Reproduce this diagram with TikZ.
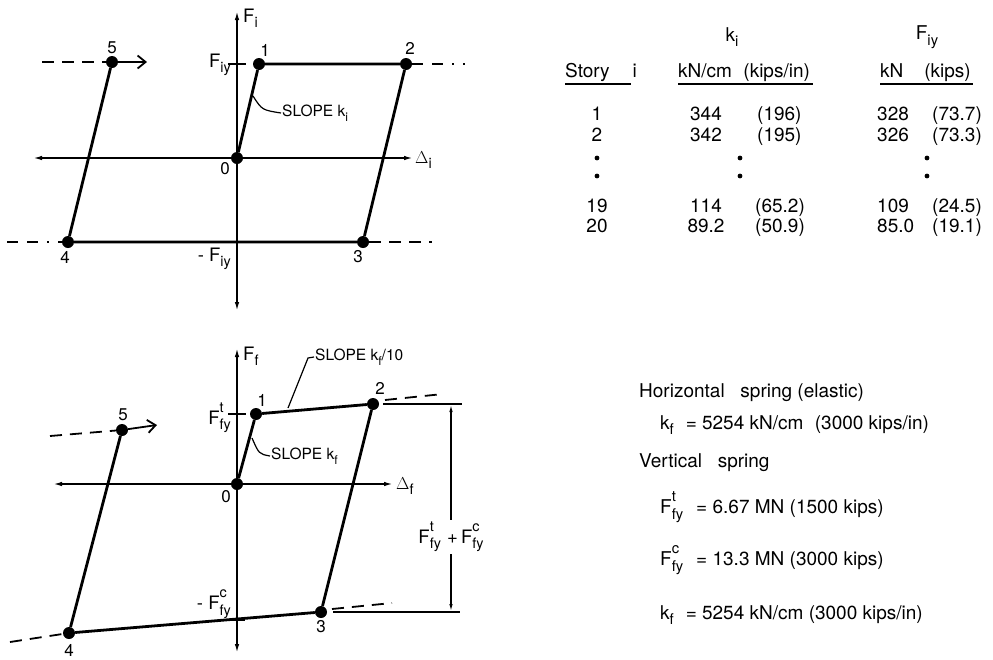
\documentclass[tikz,border=0pt]{standalone}
\usepackage{fontspec}
\setmainfont{TeX Gyre Heros}
\usepackage{graphicx}
\usetikzlibrary{arrows.meta}
\newcommand\dn[1]{\raisebox{-0.55ex}{\scalebox{0.78}{#1}}}
\newcommand\ud[2]{\rlap{\raisebox{1.2ex}{\scalebox{0.78}{#1}}}\raisebox{-0.6ex}{\scalebox{0.78}{#2}}}
\begin{document}
\begin{tikzpicture}[x=1pt,y=-1pt,
  axis/.style={line width=1.6pt,{Latex[length=9pt,width=4.5pt]}-{Latex[length=9pt,width=4.5pt]}},
  curve/.style={line width=2.8pt},
  dsh/.style={line width=1.8pt,dash pattern=on 12pt off 8pt},
  dshdot/.style={line width=1.8pt,dash pattern=on 11pt off 9pt on 11pt off 9pt on 2pt off 9pt},
  barb/.style={line width=1.8pt,-{Straight Barb[length=8pt,width=13pt,line width=1.8pt]}},
  tickm/.style={line width=1.5pt},
  thin/.style={line width=1.2pt},
  dim/.style={line width=1.1pt},
  pt/.style={circle,fill,inner sep=0pt,minimum size=12pt},
  num/.style={font=\fontsize{17}{19}\selectfont,inner sep=0pt},
  slope/.style={font=\fontsize{15.5}{17}\selectfont,inner sep=1pt,anchor=west},
  axl/.style={font=\fontsize{18.5}{20}\selectfont,inner sep=1pt},
  tab/.style={font=\fontsize{19}{22}\selectfont,inner sep=0pt},
  rowc/.style={tab,anchor=base},
  roww/.style={tab,anchor=base west},
  note/.style={font=\fontsize{19}{22}\selectfont,inner sep=0pt,anchor=west},
  uline/.style={line width=1.5pt}]
\useasboundingbox (0,0) rectangle (993,659);

% ---------------- top diagram ----------------
\coordinate (tya) at (237,11); \coordinate (tyb) at (237,311);
\coordinate (txa) at (33,158); \coordinate (txb) at (413,158);
\draw[axis] (tyb) -- (tya);
\draw[axis] (txa) -- (txb);
\node[pt] (t0) at (237,158) {};
\node[pt] (t1) at (259,64) {};
\node[pt] (t2) at (406,64) {};
\node[pt] (t3) at (363,242) {};
\node[pt] (t4) at (68,242) {};
\node[pt] (t5) at (112,62) {};
\draw[curve] (t0) -- (t1) -- (t2) -- (t3) -- (t4) -- (t5);
\coordinate (t5a) at (42,62); \coordinate (t5b) at (147,62);
\draw[dsh] (t5a) -- (t5);
\draw[barb] (t5) -- (t5b);
\coordinate (t2a) at (465,64); \draw[dshdot] (t2) -- (t2a);
\coordinate (t4a) at (7,242); \draw[dshdot] (t4a) -- (t4);
\coordinate (t3a) at (432,242); \draw[dsh] (t3) -- (t3a);
\coordinate (tk1) at (228,64); \coordinate (tk2) at (246,64); \draw[tickm] (tk1) -- (tk2);
\node[axl,anchor=west] (lFi) at (242,18) {F\dn{i}};
\node[axl,anchor=east] (lFiy) at (232,65) {F\dn{iy}};
\node[axl,anchor=east] (lmFiy) at (232,259) {- F\dn{iy}};
\node[axl,anchor=west] (lDi) at (414,160) {$\Delta$\dn{i}};
\node[num] (n0) at (225,169) {0};
\node[num] (n1) at (265,50) {1};
\node[num] (n2) at (410,48) {2};
\node[num] (n3) at (358,257) {3};
\node[num] (n4) at (65,257) {4};
\node[num] (n5) at (112,48) {5};
\node[slope] (sl1) at (281,113) {SLOPE k\dn{i}};
\coordinate (sl1a) at (253,96);
\draw[thin] (sl1a) .. controls (262,110) .. (sl1.west);

% ---------------- bottom diagram ----------------
\coordinate (bya) at (237,348); \coordinate (byb) at (237,653);
\coordinate (bxa) at (53,484); \coordinate (bxb) at (393,484);
\draw[axis] (byb) -- (bya);
\draw[axis] (bxa) -- (bxb);
\node[pt] (b0) at (237,484) {};
\node[pt] (b1) at (256,414) {};
\node[pt] (b2) at (373,404) {};
\node[pt] (b3) at (321,612) {};
\node[pt] (b4) at (69,633) {};
\node[pt] (b5) at (122,430) {};
\draw[curve] (b0) -- (b1) -- (b2) -- (b3) -- (b4) -- (b5);
\coordinate (b5a) at (50,436); \coordinate (b5b) at (157,425);
\draw[dsh] (b5a) -- (b5);
\draw[barb] (b5) -- (b5b);
\coordinate (b2a) at (385,400); \coordinate (b2b) at (443,394); \draw[dsh] (b2a) -- (b2b);
\coordinate (b3a) at (332,609); \coordinate (b3b) at (392,603); \draw[dsh] (b3a) -- (b3b);
\coordinate (b4a) at (10,642); \draw[dsh] (b4a) -- (b4);
\coordinate (bk1) at (228,414); \coordinate (bk2) at (246,414); \draw[tickm] (bk1) -- (bk2);
\coordinate (bk3) at (229,620); \coordinate (bk4) at (245,620); \draw[line width=2.4pt] (bk3) -- (bk4);
% reference lines and dimension
\coordinate (r1a) at (383,404); \coordinate (r1b) at (462,404); \draw[thin] (r1a) -- (r1b);
\coordinate (r2a) at (333,612); \coordinate (r2b) at (460,612); \draw[thin] (r2a) -- (r2b);
\node[axl,fill=white,inner sep=2pt] (dl) at (451,537) {F\ud{t}{fy}\,\,+\,F\ud{c}{fy}};
\coordinate (d1) at (451,405); \coordinate (d2) at (451,611);
\draw[dim,-{Latex[length=7pt,width=3.5pt]}] (dl.north -| d1) -- (d1);
\draw[dim,-{Latex[length=7pt,width=3.5pt]}] (dl.south -| d2) -- (d2);
\node[axl,anchor=west] (lFf) at (242,356) {F\dn{f}};
\node[axl,anchor=east] (lFft) at (232,418) {F\ud{t}{fy}};
\node[axl,anchor=east] (lmFfc) at (232,604) {- F\ud{c}{fy}};
\node[axl,anchor=west] (lDf) at (395,486) {$\Delta$\dn{f}};
\node[num] (m0) at (226,497) {0};
\node[num] (m1) at (262,400) {1};
\node[num] (m2) at (380,388) {2};
\node[num] (m3) at (321,627) {3};
\node[num] (m4) at (69,650) {4};
\node[num] (m5) at (123,415) {5};
\node[slope] (sl2) at (314,357) {SLOPE k\dn{f}/10};
\coordinate (sl2a) at (288,408); \coordinate (sl2b) at (308,358);
\draw[thin] (sl2a) -- (sl2b) -- (sl2.west);
\node[slope] (sl3) at (270,456) {SLOPE k\dn{f}};
\coordinate (sl3a) at (252,438);
\draw[thin] (sl3a) .. controls (259,454) .. (sl3.west);

% ---------------- table ----------------
\node[tab] (hk) at (732,37) {k\dn{i}};
\node[tab] (hF) at (927,37) {F\dn{iy}};
\node[roww] (hs) at (565,77) {Story\hspace{1.2em}i};
\node[roww] (hu1) at (678,77) {kN/cm\hspace{0.6em}(kips/in)};
\node[roww] (hu2) at (880,77) {kN\hspace{1.1em}(kips)};
\coordinate (u1a) at (565,84); \coordinate (u1b) at (631,84); \draw[uline] (u1a) -- (u1b);
\coordinate (u2a) at (678,84); \coordinate (u2b) at (813,84); \draw[uline] (u2a) -- (u2b);
\coordinate (u3a) at (880,84); \coordinate (u3b) at (973,84); \draw[uline] (u3a) -- (u3b);
% rows (baselines)
\node[rowc] (s1) at (597,120) {1};
\node[rowc] (s2) at (597,141) {2};
\node[rowc] (s19) at (597,212) {19};
\node[rowc] (s20) at (597,232) {20};
\node[rowc] (k1) at (706,120) {344};
\node[rowc] (k2) at (706,141) {342};
\node[rowc] (k19) at (706,212) {114};
\node[rowc] (k20) at (706,232) {89.2};
\node[roww] (p1) at (757,120) {(196)};
\node[roww] (p2) at (757,141) {(195)};
\node[roww] (p19) at (755,212) {(65.2)};
\node[roww] (p20) at (755,232) {(50.9)};
\node[roww] (f1) at (877,120) {328};
\node[roww] (f2) at (877,141) {326};
\node[roww] (f19) at (877,212) {109};
\node[roww] (f20) at (877,232) {85.0};
\node[roww] (q1) at (932,120) {(73.7)};
\node[roww] (q2) at (932,141) {(73.3)};
\node[roww] (q19) at (932,212) {(24.5)};
\node[roww] (q20) at (932,232) {(19.1)};
\foreach \xx in {597,740,927}{
  \fill (\xx,158) circle (2.4pt);
  \fill (\xx,176) circle (2.4pt);
}

% ---------------- notes ----------------
\node[note] (h1) at (639,393) {Horizontal\hspace{0.55em} spring (elastic)};
\node[note] (h2) at (660,425) {k\dn{f}\hspace{0.35em} = 5254 kN/cm\hspace{0.6em}(3000 kips/in)};
\node[note] (v1) at (639,463) {Vertical\hspace{0.55em} spring};
\node[note] (v2) at (660,507) {F\ud{t}{fy}\hspace{0.4em} = 6.67 MN (1500 kips)};
\node[note] (v3) at (660,560) {F\ud{c}{fy}\hspace{0.4em} = 13.3 MN (3000 kips)};
\node[note] (v4) at (660,615) {k\dn{f}\hspace{0.35em} = 5254 kN/cm (3000 kips/in)};
\end{tikzpicture}
\end{document}
